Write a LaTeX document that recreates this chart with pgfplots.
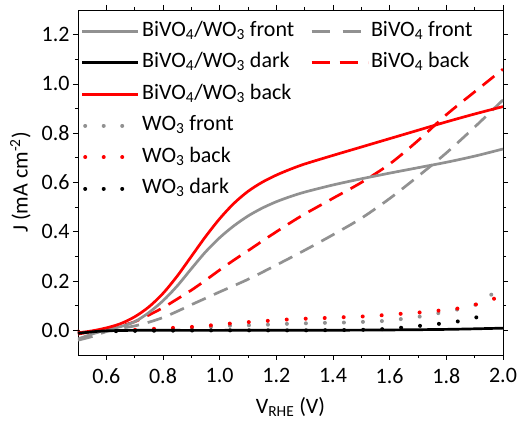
\documentclass[border=0pt]{standalone}
\usepackage{fontspec}
\setmainfont{Carlito}
\usepackage{pgfplots}
\pgfplotsset{compat=1.18}
\definecolor{mygray}{RGB}{145,145,145}
\definecolor{myred}{RGB}{255,0,0}
\tikzset{
  gsol/.style={color=mygray, line width=2.7pt},
  rsol/.style={color=myred, line width=2.7pt},
  ksol/.style={color=black, line width=2.7pt},
  gdash/.style={color=mygray, line width=2.7pt, dash pattern=on 15pt off 9pt},
  rdash/.style={color=myred, line width=2.7pt, dash pattern=on 15pt off 9pt},
  gdot/.style={color=mygray, line width=4pt, line cap=round, dash pattern=on 0.01pt off 19pt},
  rdot/.style={color=myred, line width=4pt, line cap=round, dash pattern=on 0.01pt off 19pt},
  kdot/.style={color=black, line width=4pt, line cap=round, dash pattern=on 0.01pt off 19pt},
}
\newcommand{\fs}{\fontsize{22}{26}\selectfont}
\begin{document}
\begin{tikzpicture}
\begin{axis}[
  scale only axis, width=425pt, height=345pt,
  xmin=0.5, xmax=2.0, ymin=-0.1, ymax=1.3,
  xtick={0.6,0.8,1.0,1.2,1.4,1.6,1.8,2.0},
  ytick={0,0.2,0.4,0.6,0.8,1.0,1.2},
  minor x tick num=1, minor y tick num=1,
  tick align=outside,
  major tick length=5pt, minor tick length=3pt,
  tick style={black, line width=0.8pt},
  axis line style={line width=0.9pt},
  /pgf/number format/assume math mode=true,
  xticklabel style={/pgf/number format/fixed, /pgf/number format/fixed zerofill, /pgf/number format/precision=1, yshift=-5pt},
  yticklabel style={/pgf/number format/fixed, /pgf/number format/fixed zerofill, /pgf/number format/precision=1},
  tick label style={font=\fs},
  label style={font=\fs},
  xlabel={V\textsubscript{RHE} (V)},
  xlabel style={yshift=-7pt},
  ylabel={J (mA cm\textsuperscript{-2})},
  ylabel style={yshift=4pt},
  legend columns=2,
  legend cell align=left,
  legend image code/.code={\draw[#1] (0pt,0pt) -- (56pt,0pt);},
  legend style={draw=none, fill=none, at={(rel axis cs:0,1)}, anchor=north west,
    xshift=2pt, yshift=-9pt, inner sep=0pt, font=\fs, row sep=7.5pt,
    nodes={inner sep=2pt, text height=15pt, text depth=5pt},
    /tikz/every even column/.append style={column sep=14pt}},
]
\coordinate (sw) at (rel axis cs:0,0);
\coordinate (ne) at (rel axis cs:1,1);
% WO3 front (gray dotted)
\addplot[gdot, forget plot] coordinates {
(0.50,-0.010) (0.60,-0.005) (0.70,0.000) (0.80,0.004) (0.90,0.009) (0.985,0.015)
(1.05,0.020) (1.12,0.021) (1.19,0.024) (1.25,0.027) (1.32,0.029) (1.39,0.031)
(1.45,0.032) (1.52,0.035) (1.58,0.038) (1.65,0.047) (1.72,0.058) (1.78,0.072)
(1.85,0.087) (1.915,0.108) (1.96,0.146)};
% WO3 back (red dotted)
\addplot[rdot, forget plot] coordinates {
(0.50,-0.005) (0.60,-0.002) (0.70,0.002) (0.78,0.007) (0.85,0.011) (0.92,0.015)
(0.985,0.022) (1.05,0.029) (1.12,0.035) (1.19,0.040) (1.25,0.045) (1.32,0.048)
(1.39,0.051) (1.45,0.054) (1.52,0.057) (1.58,0.062) (1.65,0.068) (1.72,0.074)
(1.78,0.081) (1.85,0.090) (1.915,0.108) (1.975,0.131)};
% WO3 dark (black dotted)
\addplot[kdot, forget plot] coordinates {
(0.50,-0.005) (0.70,-0.002) (1.00,0.000) (1.30,0.000) (1.50,0.002) (1.58,0.005)
(1.655,0.012) (1.72,0.020) (1.787,0.028) (1.852,0.038) (1.918,0.056) (1.96,0.088)};
% BiVO4 front (gray dashed)
\addplot[gdash, smooth, forget plot] coordinates {
(0.50,-0.040) (0.55,-0.025) (0.60,-0.005) (0.65,0.008) (0.70,0.018) (0.75,0.033)
(0.80,0.052) (0.85,0.077) (0.90,0.104) (0.95,0.130) (1.00,0.156) (1.10,0.207)
(1.20,0.265) (1.30,0.325) (1.40,0.388) (1.50,0.455) (1.60,0.535) (1.70,0.625)
(1.80,0.720) (1.90,0.825) (2.00,0.935)};
% BiVO4 back (red dashed)
\addplot[rdash, smooth, forget plot] coordinates {
(0.50,-0.015) (0.55,-0.005) (0.60,0.005) (0.65,0.018) (0.70,0.035) (0.75,0.062)
(0.80,0.092) (0.85,0.127) (0.90,0.163) (0.95,0.203) (1.00,0.245) (1.05,0.285)
(1.10,0.323) (1.15,0.362) (1.20,0.400) (1.25,0.437) (1.30,0.472) (1.40,0.536)
(1.50,0.600) (1.60,0.675) (1.70,0.770) (1.80,0.875) (1.90,0.968) (2.00,1.060)};
% BiVO4/WO3 front (gray solid)
\addplot[gsol, smooth, forget plot] coordinates {
(0.50,-0.035) (0.55,-0.015) (0.60,0.002) (0.65,0.015) (0.70,0.035) (0.75,0.072)
(0.80,0.120) (0.85,0.180) (0.90,0.250) (0.95,0.318) (1.00,0.376) (1.05,0.424)
(1.10,0.464) (1.15,0.496) (1.20,0.522) (1.25,0.543) (1.30,0.561) (1.40,0.590)
(1.50,0.615) (1.60,0.638) (1.70,0.660) (1.80,0.682) (1.90,0.707) (2.00,0.736)};
% BiVO4/WO3 back (red solid)
\addplot[rsol, smooth, forget plot] coordinates {
(0.50,-0.010) (0.55,-0.002) (0.60,0.010) (0.65,0.027) (0.70,0.055) (0.75,0.095)
(0.80,0.150) (0.85,0.220) (0.90,0.300) (0.95,0.380) (1.00,0.453) (1.05,0.515)
(1.10,0.564) (1.15,0.601) (1.20,0.630) (1.25,0.654) (1.30,0.675) (1.40,0.710)
(1.50,0.744) (1.60,0.778) (1.70,0.812) (1.80,0.846) (1.90,0.878) (2.00,0.908)};
% BiVO4/WO3 dark (black solid)
\addplot[ksol, smooth, forget plot] coordinates {
(0.50,-0.012) (0.55,-0.006) (0.60,-0.002) (0.70,0.000) (1.00,0.000) (1.50,0.001)
(1.80,0.004) (2.00,0.009)};
% legend
\addlegendimage{gsol}\addlegendentry{BiVO\textsubscript{4}/WO\textsubscript{3} front}
\addlegendimage{gdash, dash pattern=on 18pt off 13pt}\addlegendentry{BiVO\textsubscript{4} front}
\addlegendimage{ksol}\addlegendentry{BiVO\textsubscript{4}/WO\textsubscript{3} dark}
\addlegendimage{rdash, dash pattern=on 18pt off 10pt}\addlegendentry{BiVO\textsubscript{4} back}
\addlegendimage{rsol}\addlegendentry{BiVO\textsubscript{4}/WO\textsubscript{3} back}
\addlegendimage{empty legend}\addlegendentry{}
\addlegendimage{gdot, dash pattern=on 0.01pt off 18.5pt, dash phase=15.5pt}\addlegendentry{WO\textsubscript{3} front}
\addlegendimage{empty legend}\addlegendentry{}
\addlegendimage{rdot, dash pattern=on 0.01pt off 18.5pt, dash phase=15.5pt}\addlegendentry{WO\textsubscript{3} back}
\addlegendimage{empty legend}\addlegendentry{}
\addlegendimage{kdot, dash pattern=on 0.01pt off 18.5pt, dash phase=15.5pt}\addlegendentry{WO\textsubscript{3} dark}
\addlegendimage{empty legend}\addlegendentry{}
\end{axis}
\pgfresetboundingbox
\path[use as bounding box] ([shift={(-78pt,-73pt)}]sw) rectangle ([shift={(22pt,10pt)}]ne);
\end{tikzpicture}
\end{document}
